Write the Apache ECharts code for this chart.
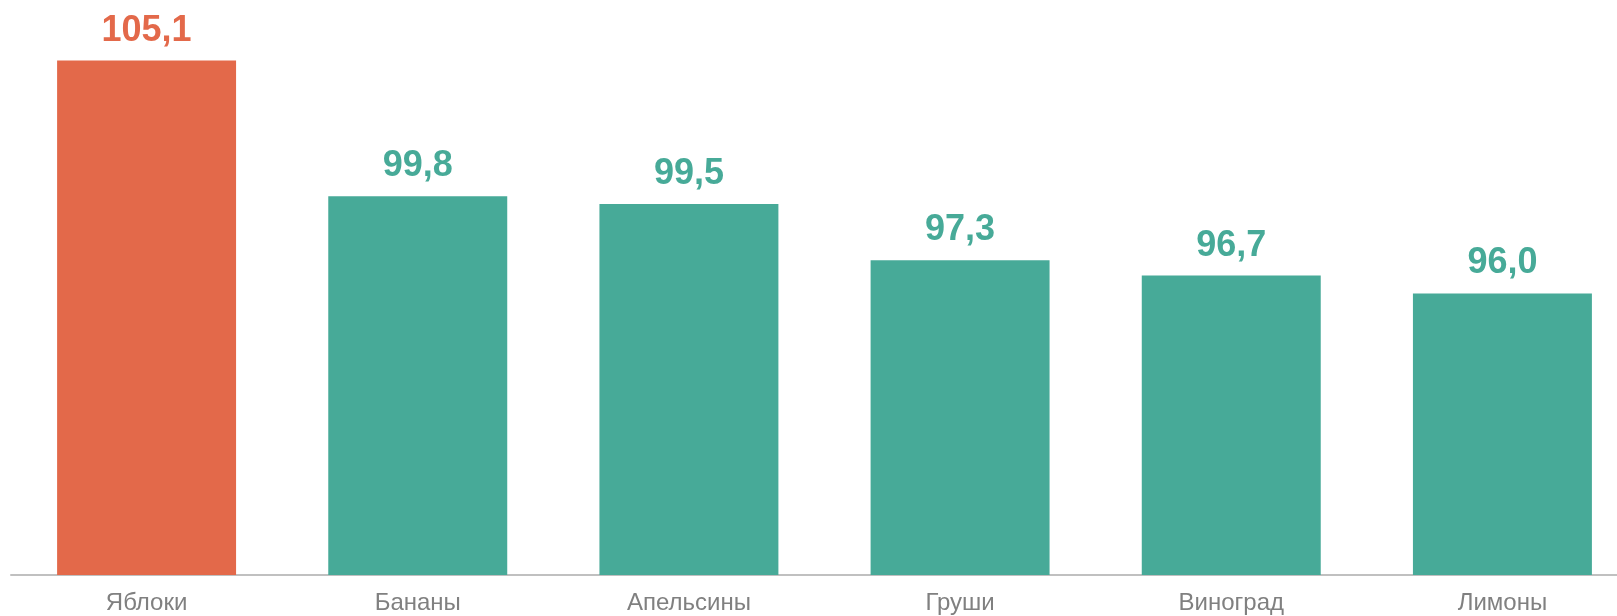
<!DOCTYPE html>
<html><head><meta charset="utf-8">
<script src="https://cdn.jsdelivr.net/npm/echarts@6/dist/echarts.min.js"></script>
<style>html,body{margin:0;padding:0;background:#fff;overflow:hidden}#c{width:1638px;height:616px}</style>
</head><body><div id="c"></div>
<script>
const categories = ['Яблоки','Бананы','Апельсины','Груши','Виноград','Лимоны'];
const values = [105.1, 99.8, 99.5, 97.3, 96.7, 96.0];
const colors = ['#E3694A','#47AA98','#47AA98','#47AA98','#47AA98','#47AA98'];

const chart = echarts.init(document.getElementById('c'), null, {renderer:'canvas'});
chart.setOption({
  animation:false,
  grid:{left:11, right:0, top:12, bottom:41, containLabel:false},
  xAxis:{type:'category', data:categories,
    axisLine:{lineStyle:{color:'#C0C0C0', width:2}},
    axisTick:{show:false},
    axisLabel:{color:'#808080', fontSize:24, fontFamily:'Liberation Sans', margin:16}
  },
  yAxis:{type:'value', min:85, max:107, show:false, splitLine:{show:false}},
  series:[{type:'bar', barWidth:'66%',
    data: values.map((v,i)=>({value:v, itemStyle:{color:colors[i]}, label:{color:colors[i]}})),
    label:{show:true, position:'top', distance:12, fontSize:36, fontWeight:'bold',
      fontFamily:'Liberation Sans',
      formatter:p=>p.value.toFixed(1).replace('.',',')}
  }]
});
</script></body></html>
